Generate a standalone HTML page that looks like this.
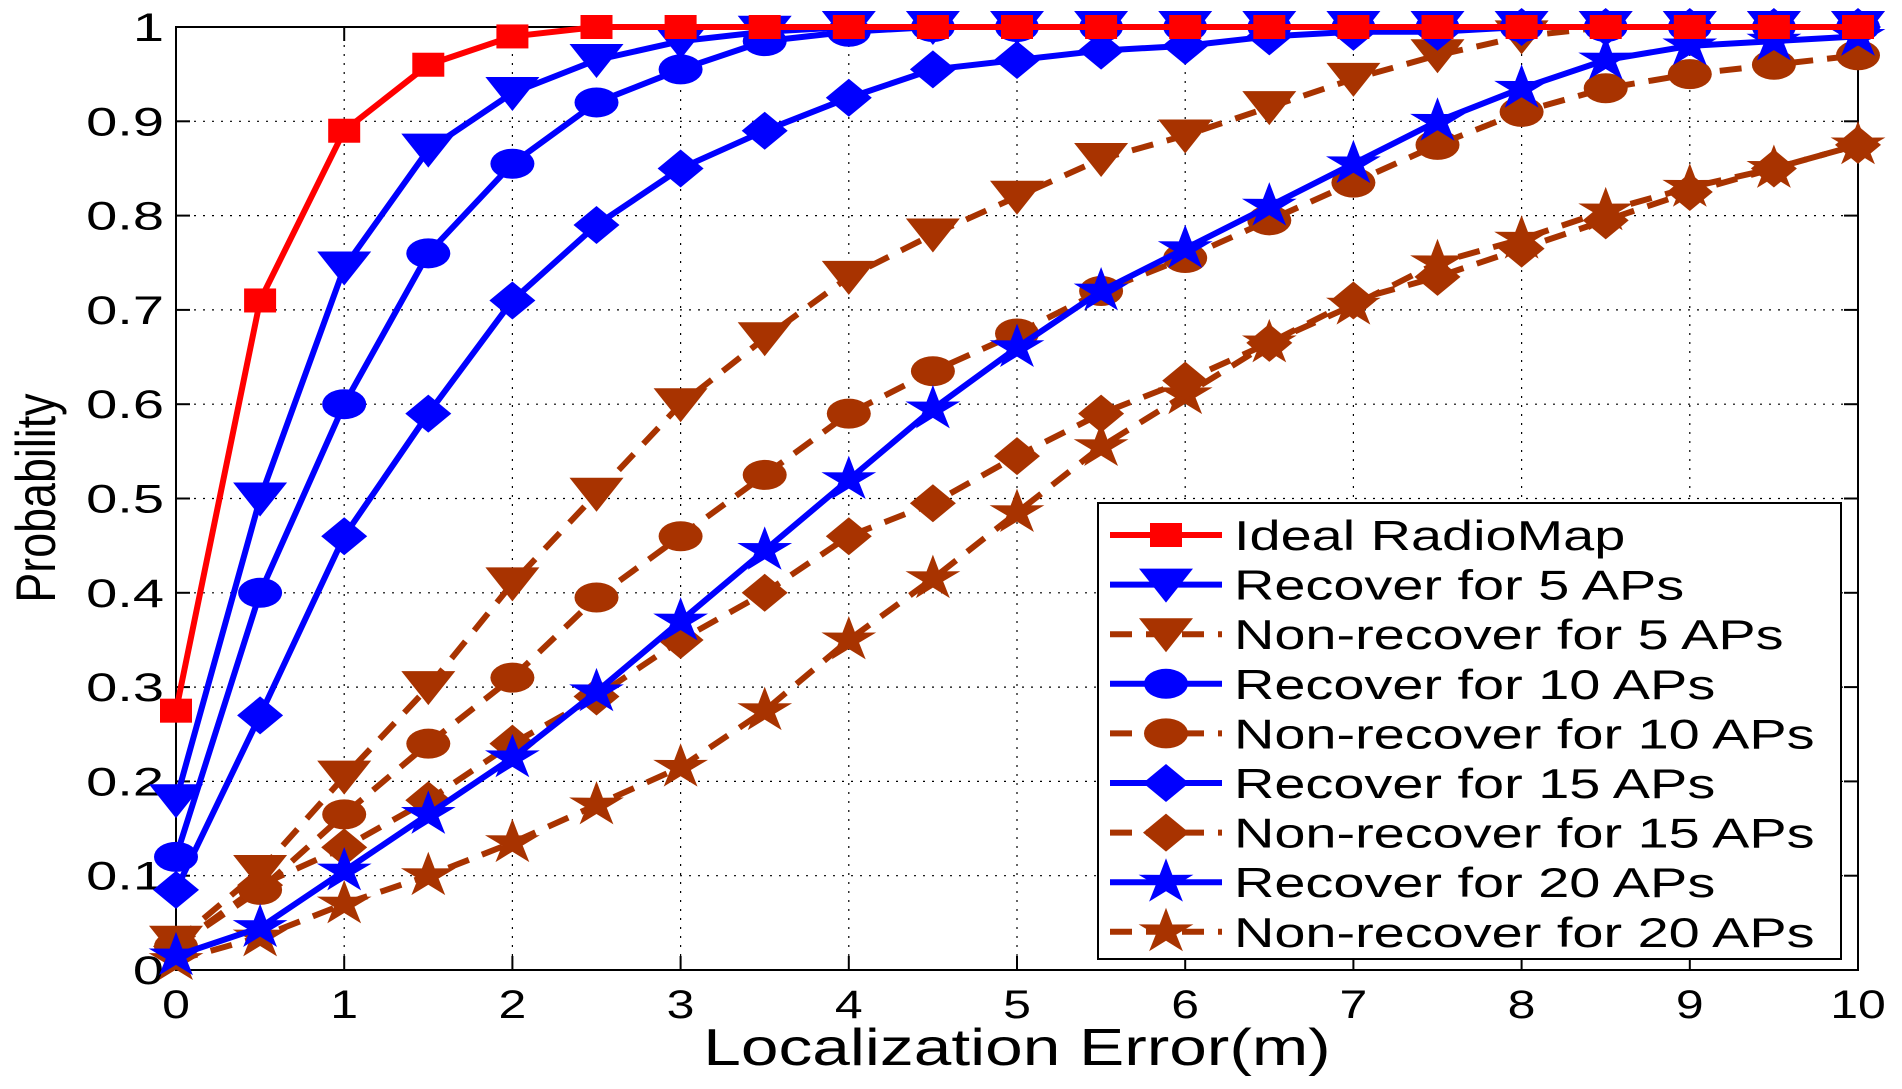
<!DOCTYPE html>
<html><head><meta charset="utf-8"><style>
html,body{margin:0;padding:0;background:#fff;}
svg{display:block;font-family:"Liberation Sans",sans-serif;}
</style></head><body>
<svg id="chart" width="1902" height="1089"></svg>
<script>
const xValues=[0,0.5,1,1.5,2,2.5,3,3.5,4,4.5,5,5.5,6,6.5,7,7.5,8,8.5,9,9.5,10];
const ideal=[0.275,0.71,0.89,0.96,0.99,1,1,1,1,1,1,1,1,1,1,1,1,1,1,1,1];
const rec5=[0.18,0.50,0.745,0.87,0.93,0.965,0.985,0.995,1,1,1,1,1,1,1,1,1,1,1,1,1];
const non5=[0.03,0.105,0.205,0.30,0.41,0.505,0.60,0.67,0.735,0.78,0.82,0.86,0.885,0.915,0.945,0.97,0.99,1,1,1,1];
const rec10=[0.12,0.40,0.60,0.76,0.855,0.92,0.955,0.985,0.995,1,1,1,1,1,1,1,1,1,1,1,1];
const non10=[0.025,0.085,0.165,0.24,0.31,0.395,0.46,0.525,0.59,0.635,0.675,0.72,0.755,0.795,0.835,0.875,0.91,0.935,0.95,0.96,0.97];
const rec15=[0.085,0.27,0.46,0.59,0.71,0.79,0.85,0.89,0.925,0.955,0.965,0.975,0.98,0.99,0.995,0.995,1,1,1,1,1];
const non15=[0.025,0.09,0.13,0.18,0.24,0.29,0.35,0.40,0.46,0.495,0.545,0.59,0.625,0.665,0.71,0.735,0.765,0.795,0.825,0.85,0.875];
const rec20=[0.015,0.045,0.105,0.165,0.225,0.295,0.37,0.445,0.52,0.595,0.66,0.72,0.765,0.81,0.855,0.9,0.935,0.965,0.98,0.985,0.99];
const non20=[0.01,0.035,0.07,0.10,0.135,0.175,0.215,0.275,0.35,0.415,0.485,0.555,0.61,0.665,0.705,0.75,0.775,0.805,0.83,0.85,0.875];
const xTicks=[0,1,2,3,4,5,6,7,8,9,10];
const yTicks=[0,0.1,0.2,0.3,0.4,0.5,0.6,0.7,0.8,0.9,1];
const yTickLabels=["0","0.1","0.2","0.3","0.4","0.5","0.6","0.7","0.8","0.9","1"];
const seriesNames=["Ideal RadioMap","Recover for 5 APs","Non-recover for 5 APs","Recover for 10 APs","Non-recover for 10 APs","Recover for 15 APs","Non-recover for 15 APs","Recover for 20 APs","Non-recover for 20 APs"];

const NS="http://www.w3.org/2000/svg";
const svg=document.getElementById('chart');
const L=176,R=1858,T=27,B=970;
const sx=v=>L+(v-0)/(10-0)*(R-L);
const sy=v=>B-(v-0)/(1-0)*(B-T);
function mk(tag,attrs,parent){const e=document.createElementNS(NS,tag);for(const k in attrs)e.setAttribute(k,attrs[k]);(parent||svg).appendChild(e);return e;}
function stretch(el,k){const w=el.getComputedTextLength();el.setAttribute('textLength',w*k);el.setAttribute('lengthAdjust','spacingAndGlyphs');}
const RED="#ff0000",BLUE="#0000ff",BROWN="#a83300";
const series=[
 {d:ideal,c:RED,dash:false,m:"square",n:"ideal-radiomap"},
 {d:rec5,c:BLUE,dash:false,m:"tri",n:"recover-5-aps"},
 {d:non5,c:BROWN,dash:true,m:"tri",n:"non-recover-5-aps"},
 {d:rec10,c:BLUE,dash:false,m:"circle",n:"recover-10-aps"},
 {d:non10,c:BROWN,dash:true,m:"circle",n:"non-recover-10-aps"},
 {d:rec15,c:BLUE,dash:false,m:"diamond",n:"recover-15-aps"},
 {d:non15,c:BROWN,dash:true,m:"diamond",n:"non-recover-15-aps"},
 {d:rec20,c:BLUE,dash:false,m:"star",n:"recover-20-aps"},
 {d:non20,c:BROWN,dash:true,m:"star",n:"non-recover-20-aps"}];

const grid=mk('g',{});


xTicks.forEach(t=>{ if(t>0&&t<10) mk('line',{x1:sx(t),x2:sx(t),y1:T,y2:B,stroke:"#000","stroke-width":1.2,"stroke-dasharray":"2,7"},grid);});
yTicks.forEach(t=>{ if(t>0&&t<1) mk('line',{x1:L,x2:R,y1:sy(t),y2:sy(t),stroke:"#000","stroke-width":1.2,"stroke-dasharray":"2,7"},grid);});
const frame=mk('rect',{x:L,y:T,width:R-L,height:B-T,fill:"none",stroke:"#000","stroke-width":2});


xTicks.forEach(t=>{
 mk('line',{x1:sx(t),x2:sx(t),y1:B,y2:B-14,stroke:"#000","stroke-width":2});
 mk('line',{x1:sx(t),x2:sx(t),y1:T,y2:T+14,stroke:"#000","stroke-width":2});
 const tx=mk('text',{x:sx(t),y:B+48,"font-size":40,"text-anchor":"middle"});
 tx.textContent=String(t);
 
 
 stretch(tx,1.25);
});
yTicks.forEach((t,i)=>{
 mk('line',{x1:L,x2:L+14,y1:sy(t),y2:sy(t),stroke:"#000","stroke-width":2});
 mk('line',{x1:R,x2:R-14,y1:sy(t),y2:sy(t),stroke:"#000","stroke-width":2});
 const tx=mk('text',{x:L-12,y:sy(t)+14,"font-size":40,"text-anchor":"end"});
 tx.textContent=yTickLabels[i];
 
 
 stretch(tx,1.4);
});
const xt=mk('text',{x:(L+R)/2,y:1065,"font-size":52,"text-anchor":"middle"});
xt.textContent="Localization Error(m)";


stretch(xt,1.3);
const yt=mk('text',{x:0,y:0,"font-size":56,"text-anchor":"middle",transform:"translate(55,498) rotate(-90) scale(0.8,1)"});
yt.textContent="Probability";



function marker(type,x,y,c,g){
 if(type==="square") return mk('rect',{x:x-16,y:y-12,width:32,height:24,fill:c},g);
 if(type==="tri") return mk('polygon',{points:`${x-27},${y-16} ${x+27},${y-16} ${x},${y+18}`,fill:c},g);
 if(type==="circle") return mk('ellipse',{cx:x,cy:y,rx:22,ry:15,fill:c},g);
 if(type==="diamond") return mk('polygon',{points:`${x},${y-19} ${x+23},${y} ${x},${y+19} ${x-23},${y}`,fill:c},g);
 let p=[];for(let i=0;i<10;i++){const a=-Math.PI/2+i*Math.PI/5;const r=i%2?9:24;p.push((x+r*1.2*Math.cos(a))+","+(y+r*Math.sin(a)));}
 return mk('polygon',{points:p.join(" "),fill:c},g);
}
const order=[8,6,4,2,7,5,3,1,0];
order.forEach(i=>{
 const s=series[i];
 const g=mk('g',{});
 
 
 const pts=s.d.map((v,k)=>sx(xValues[k])+","+sy(v)).join(" ");
 const pl=mk('polyline',{points:pts,fill:"none",stroke:s.c,"stroke-width":6,"stroke-linejoin":"round"},g);
 if(s.dash) pl.setAttribute('stroke-dasharray','22,14');
 s.d.forEach((v,k)=>{const m=marker(s.m,sx(xValues[k]),sy(v),s.c,g);
  
  });
});
const lg=mk('g',{});


mk('rect',{x:1098,y:503,width:743,height:456,fill:"#fff",stroke:"#000","stroke-width":2},lg);
series.forEach((s,i)=>{
 const y=535+i*49.6;
 const e=mk('g',{},lg);
 
 
 const ln=mk('line',{x1:1110,x2:1222,y1:y,y2:y,stroke:s.c,"stroke-width":6},e);
 if(s.dash) ln.setAttribute('stroke-dasharray','22,14');
 marker(s.m,1166,y,s.c,e);
 const t=mk('text',{x:1234,y:y+15,"font-size":42},e);
 t.textContent=seriesNames[i];
 stretch(t,1.33);
});
</script>
</body></html>
